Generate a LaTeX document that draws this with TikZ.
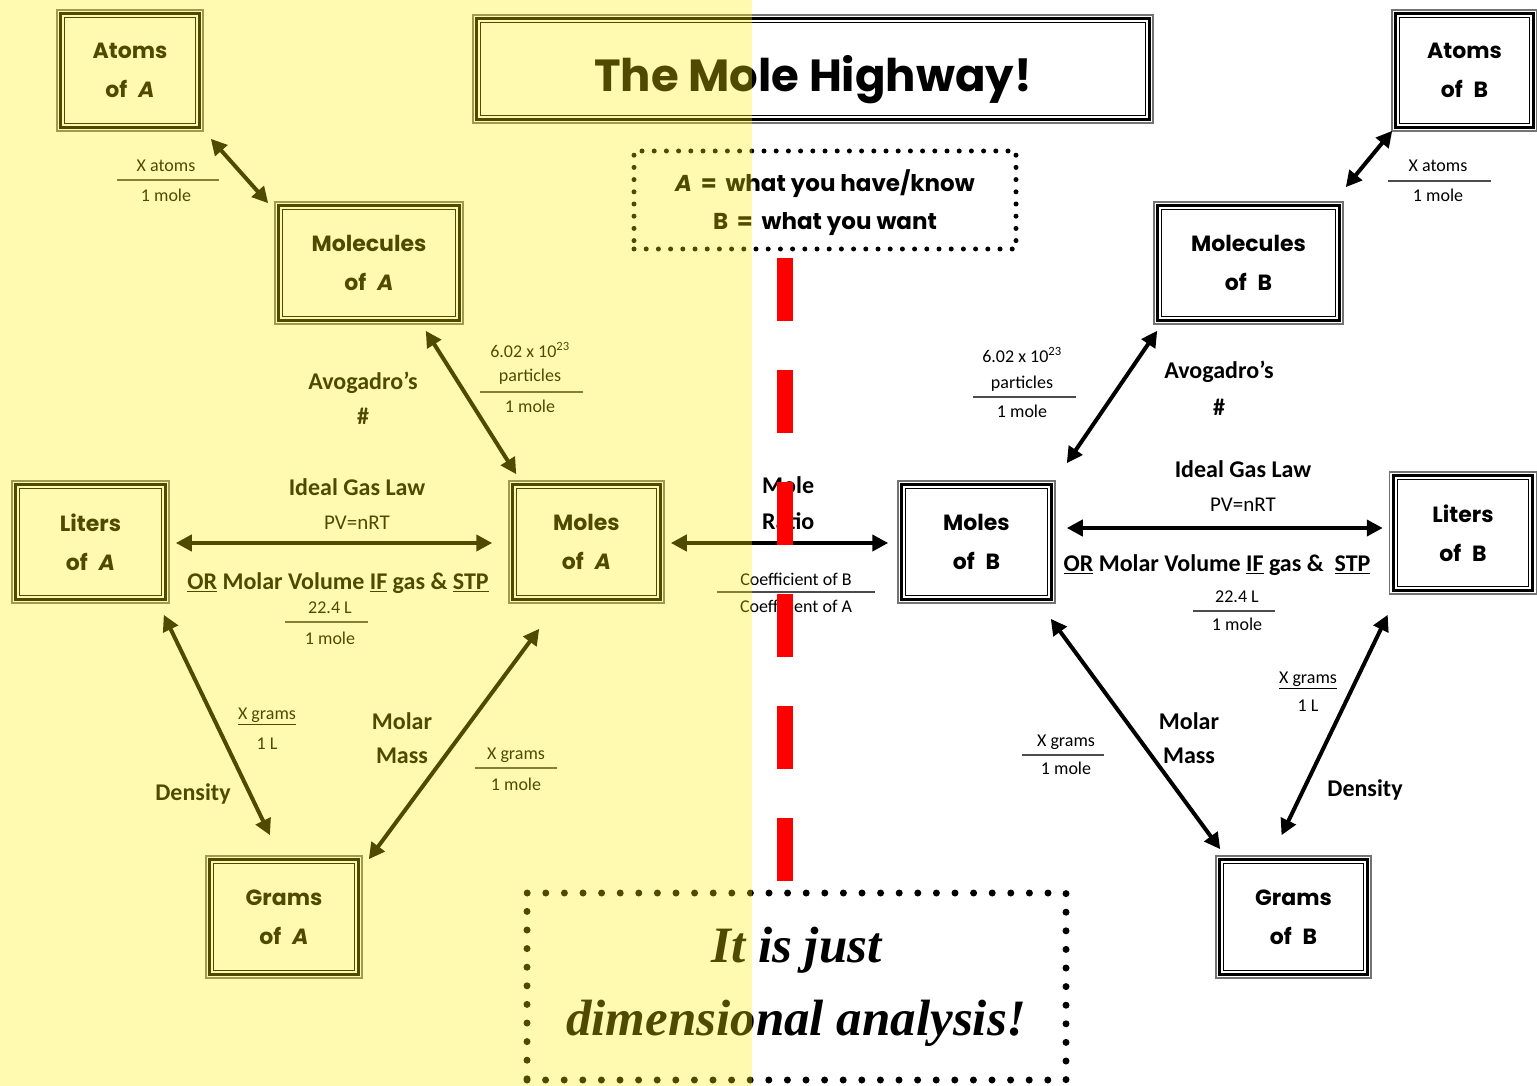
\documentclass[tikz,border=0pt]{standalone}
\usepackage{fontspec}
\setmainfont{Carlito}
\newfontfamily\comic{Poppins}
\newfontfamily\scriptf{Liberation Serif}
\usetikzlibrary{arrows.meta}
\newcommand\tripleframe[1]{%
  \draw[line width=3pt] ([shift={(4.5,4.5)}]#1.north west) rectangle ([shift={(-4.5,-4.5)}]#1.south east);
  \draw[line width=1.3pt] ([shift={(8.5,8.5)}]#1.north west) rectangle ([shift={(-8.5,-8.5)}]#1.south east);
}
\tikzset{
  box/.style={draw=black!55, line width=1.5pt, inner sep=0pt, align=center,
    font=\comic\bfseries\fontsize{22}{39}\selectfont},
  lbl/.style={inner sep=0pt, font=\bfseries\fontsize{24}{28}\selectfont},
  sm/.style={inner sep=0pt, font=\fontsize{18}{20}\selectfont},
  rl/.style={black!70, line width=1.8pt},
  arr/.style={line width=4pt, {Triangle[length=16pt,width=16pt]}-{Triangle[length=16pt,width=16pt]}},
  dotsmall/.style={line width=5pt, dash pattern=on 0pt off 12.2pt, line cap=round},
  dotbig/.style={line width=7pt, dash pattern=on 0pt off 18.6pt, line cap=round},
}
\begin{document}
\begin{tikzpicture}[x=1pt,y=-1pt]
\useasboundingbox (0,0) rectangle (1537,1086);
\fill[white] (0,0) rectangle (1537,1086);

% boxes
\node[box, minimum width=680pt, minimum height=108pt, text height=50pt, text depth=4pt,
  font=\comic\bfseries\fontsize{45}{54}\selectfont] (title) at (813,69) {The Mole Highway!};
\node[box, minimum width=146pt, minimum height=121pt] (atomsA) at (130,70.5) {Atoms\\of\enspace\textit{A}};
\node[box, minimum width=145pt, minimum height=121pt] (atomsB) at (1464.5,70.5) {Atoms\\of\enspace B};
\node[box, minimum width=188pt, minimum height=122pt] (molA) at (369,263) {Molecules\\of\enspace\textit{A}};
\node[box, minimum width=189pt, minimum height=122pt] (molB) at (1248.5,263) {Molecules\\of\enspace B};
\node[box, minimum width=157pt, minimum height=122pt] (litA) at (90.5,542) {Liters\\of\enspace\textit{A}};
\node[box, minimum width=155pt, minimum height=122pt] (molesA) at (586.5,542) {Moles\\of\enspace\textit{A}};
\node[box, minimum width=157pt, minimum height=122pt] (molesB) at (976.5,542) {Moles\\of\enspace B};
\node[box, minimum width=147pt, minimum height=122pt] (litB) at (1463,533) {Liters\\of\enspace B};
\node[box, minimum width=156pt, minimum height=122pt] (gramsA) at (284,917) {Grams\\of\enspace\textit{A}};
\node[box, minimum width=155pt, minimum height=122pt] (gramsB) at (1293.5,917) {Grams\\of\enspace B};
\foreach \n in {title,atomsA,atomsB,molA,molB,litA,molesA,molesB,litB,gramsA,gramsB}{\tripleframe{\n}}

% dotted boxes
\node[draw, dotsmall, minimum width=382pt, minimum height=98pt, inner sep=0pt] (legend) at (825,200) {};
\node[align=center, inner sep=0pt, font=\comic\bfseries\fontsize{23}{38}\selectfont] (legendtxt) at (825,203)
  {\textit{A}\, =\, what you have/know\\B\, =\, what you want};
\node[draw, dotbig, minimum width=539pt, minimum height=187pt, align=center, inner sep=0pt,
  font=\scriptf\bfseries\itshape\fontsize{51}{73}\selectfont] (dim) at (796.5,986.5)
  {It is just\\dimensional analysis!};

% arrows
\draw[arr] ([shift={(7,7)}]atomsA.south east) -- ([shift={(-6,2)}]molA.north west);
\draw[arr] ([shift={(-38,6)}]molA.south east) -- ([shift={(8,-6)}]molesA.north west);
\draw[arr] ([shift={(6,1)}]litA.east) -- ([shift={(-16,1)}]molesA.west);
\draw[arr] ([shift={(6,1)}]molesA.east) -- ([shift={(-9,1)}]molesB.west);
\draw[arr] ([shift={(-6,11)}]litA.south east) -- ([shift={(-14,-20)}]gramsA.north);
\draw[arr] ([shift={(31,25)}]molesA.south west) -- ([shift={(6,4)}]gramsA.north east);
\draw[arr] ([shift={(4,6)}]molB.south west) -- ([shift={(11,-17)}]molesB.north east);
\draw[arr] ([shift={(1,-1)}]atomsB.south west) -- ([shift={(2,-14)}]molB.north east);
\draw[arr] ([shift={(11,-14)}]molesB.east) -- ([shift={(-6,-5)}]litB.west);
\draw[arr] ([shift={(-5,15)}]molesB.south east) -- ([shift={(5,-6)}]gramsB.north west);
\draw[arr] ([shift={(-1,20)}]litB.south west) -- ([shift={(-12,-20)}]gramsB.north);

% left labels
\node[sm] (xaA1) at (166,166) {X atoms};
\draw[rl] (117,180) -- (219,180);
\node[sm] (xaA2) at (166,195) {1 mole};
\node[sm] (avA1) at (530,350) {6.02 x 10\textsuperscript{23}};
\node[sm] (avA2) at (530,377) {particles};
\draw[rl] (480,392) -- (583,392);
\node[sm] (avA3) at (530,406) {1 mole};
\node[lbl] (avogA) at (363,383) {Avogadro’s};
\node[lbl] (hashA) at (363,416) {\#};
\node[lbl] (igA) at (357,487) {Ideal Gas Law};
\node[sm, font=\fontsize{21}{24}\selectfont] (pvA) at (357,523) {PV=nRT};
\node[lbl] (orA) at (338,583) {\underline{OR} Molar Volume \underline{IF} gas \& \underline{STP}};
\node[sm] (vA1) at (330,608) {22.4 L};
\draw[rl] (285,622) -- (368,622);
\node[sm] (vA2) at (330,638) {1 mole};
\node[sm] (dA1) at (267,716) {\underline{X grams}};
\node[sm] (dA2) at (267,744) {1 L};
\node[lbl] (densA) at (193,794) {Density};
\node[lbl] (mmA1) at (402,721) {Molar};
\node[lbl] (mmA2) at (402,756) {Mass};
\node[sm] (gA1) at (516,755) {X grams};
\draw[rl] (475,768) -- (557,768);
\node[sm] (gA2) at (516,784) {1 mole};
\node[lbl, anchor=west] (mr1) at (762,485) {Mole};
\node[lbl, anchor=west] (mr2) at (762,521) {Ratio};
\node[sm] (cB) at (796,579) {Coefficient of B};
\draw[rl] (717,592) -- (875,592);
\node[sm] (cA) at (796,606) {Coefficient of A};

% right labels
\node[sm] (xaB1) at (1438,166) {X atoms};
\draw[rl] (1388,181) -- (1491,181);
\node[sm] (xaB2) at (1438,195) {1 mole};
\node[sm] (avB1) at (1022,355) {6.02 x 10\textsuperscript{23}};
\node[sm] (avB2) at (1022,384) {particles};
\draw[rl] (973,397) -- (1076,397);
\node[sm] (avB3) at (1022,411) {1 mole};
\node[lbl] (avogB) at (1219,372) {Avogadro’s};
\node[lbl] (hashB) at (1219,407) {\#};
\node[lbl] (igB) at (1243,469) {Ideal Gas Law};
\node[sm, font=\fontsize{21}{24}\selectfont] (pvB) at (1243,505) {PV=nRT};
\node[lbl] (orB) at (1217,565) {\underline{OR} Molar Volume \underline{IF} gas \&\ \ \underline{STP}};
\node[sm] (vB1) at (1237,597) {22.4 L};
\draw[rl] (1193,611) -- (1275,611);
\node[sm] (vB2) at (1237,624) {1 mole};
\node[sm] (dB1) at (1308,680) {\underline{X grams}};
\node[sm] (dB2) at (1308,706) {1 L};
\node[lbl] (densB) at (1365,790) {Density};
\node[lbl] (mmB1) at (1189,721) {Molar};
\node[lbl] (mmB2) at (1189,756) {Mass};
\node[sm] (gB1) at (1066,742) {X grams};
\draw[rl] (1022,755) -- (1104,755);
\node[sm] (gB2) at (1066,768) {1 mole};

% yellow overlay
\fill[yellow, opacity=0.31] (0,0) rectangle (752,1086);

% red dashed divider
\draw[red, line width=16pt, dash pattern=on 63pt off 49pt] (785,258) -- (785,881);
\end{tikzpicture}
\end{document}
